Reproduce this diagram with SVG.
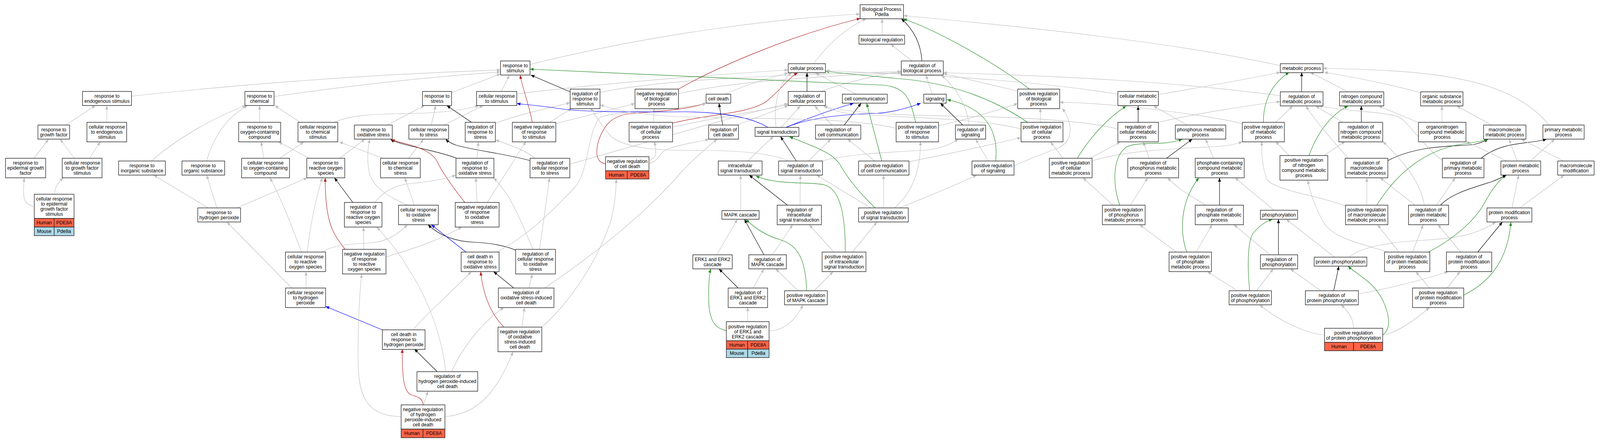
<svg xmlns="http://www.w3.org/2000/svg" width="4344" height="1131" viewBox="0 0 4344 1131">
<style>
text{font-family:"Liberation Sans",Arial,sans-serif;font-size:13px;fill:#000;text-anchor:middle}
.node rect{fill:#fff;stroke:#222;stroke-width:1.4}
.node rect.hu{fill:#ff6347}
.node rect.mo{fill:#add8e6}
.e{fill:none;stroke-width:1.2}
.g{stroke:#c0c0c0;marker-end:url(#ag)}
.k{stroke:#000;marker-end:url(#ak)}
.r{stroke:#b22222;marker-end:url(#ar)}
.b{stroke:#0000ff;marker-end:url(#ab)}
.v{stroke:#228b22;marker-end:url(#av)}
</style>
<defs>
<marker id="ag" markerUnits="userSpaceOnUse" markerWidth="11" markerHeight="8" refX="10" refY="4" orient="auto"><path d="M0,0 L10,4 L0,8 z" fill="#c0c0c0"/></marker>
<marker id="ak" markerUnits="userSpaceOnUse" markerWidth="11" markerHeight="8" refX="10" refY="4" orient="auto"><path d="M0,0 L10,4 L0,8 z" fill="#000"/></marker>
<marker id="ar" markerUnits="userSpaceOnUse" markerWidth="11" markerHeight="8" refX="10" refY="4" orient="auto"><path d="M0,0 L10,4 L0,8 z" fill="#b22222"/></marker>
<marker id="ab" markerUnits="userSpaceOnUse" markerWidth="11" markerHeight="8" refX="10" refY="4" orient="auto"><path d="M0,0 L10,4 L0,8 z" fill="#0000ff"/></marker>
<marker id="av" markerUnits="userSpaceOnUse" markerWidth="11" markerHeight="8" refX="10" refY="4" orient="auto"><path d="M0,0 L10,4 L0,8 z" fill="#228b22"/></marker>
</defs>
<rect x="0" y="0" width="4344" height="1131" fill="#fff"/>
<g id="diagram" transform="scale(0.94291,1)">
<g id="edges">
<path class="e g" d="M357,246 Q860,195 1359,179"/>
<path class="e g" d="M178,320 L259,270"/>
<path class="e g" d="M290,313 L290,270"/>
<path class="e g" d="M92,405 L132,356"/>
<path class="e g" d="M202,405 L163,356"/>
<path class="e g" d="M243,405 L272,363"/>
<path class="e g" d="M93,528 C68,525 64,510 64,490 C64,475 65,465 66,455"/>
<path class="e g" d="M148,497 C148,478 160,465 172,455"/>
<path class="e g" d="M411,412 C480,355 580,300 668,270"/>
<path class="e g" d="M561,412 C580,350 615,300 672,270"/>
<path class="e g" d="M565,532 L417,448"/>
<path class="e g" d="M589,532 L561,448"/>
<path class="e g" d="M643,532 L834,455"/>
<path class="e g" d="M744,247 Q1050,205 1359,184"/>
<path class="e g" d="M705,313 L705,270"/>
<path class="e g" d="M815,313 L746,270"/>
<path class="e g" d="M908,313 C960,290 1050,292 1130,290 C1200,288 1260,282 1300,270"/>
<path class="e g" d="M716,405 L709,363"/>
<path class="e g" d="M760,405 L825,363"/>
<path class="e g" d="M840,405 L756,363"/>
<path class="e g" d="M922,405 L991,356"/>
<path class="e g" d="M1040,405 L921,363"/>
<path class="e g" d="M1110,405 L1150,356"/>
<path class="e g" d="M1051,320 L1153,270"/>
<path class="e g" d="M1171,320 L1183,270"/>
<path class="e g" d="M1205,320 L1312,270"/>
<path class="e k" d="M1280,313 L1213,270"/>
<path class="e g" d="M1345,316 C1400,295 1480,278 1548,263"/>
<path class="e g" d="M1226,237 L1359,189"/>
<path class="e g" d="M1361,234 L1383,192"/>
<path class="e g" d="M1403,240 C1650,212 1950,190 2140,179"/>
<path class="e g" d="M1439,165 C1800,80 2150,45 2335,36"/>
<path class="e k" d="M1548,235 L1441,192"/>
<path class="e g" d="M1629,237 C1800,200 2200,190 2447,183"/>
<path class="e r" d="M1445,313 C1440,280 1420,230 1412,192"/>
<path class="e g" d="M1492,313 L1553,277"/>
<path class="e g" d="M1509,316 L1724,265"/>
<path class="e g" d="M1452,405 C1430,385 1380,370 1345,358"/>
<path class="e k" d="M1439,411 C1380,395 1290,385 1240,372 C1225,367 1216,362 1210,356"/>
<path class="e g" d="M1547,420 C1700,380 1980,300 2140,265"/>
<path class="e r" d="M1842,228 C1950,170 2150,90 2336,47"/>
<path class="e g" d="M1842,240 C2000,205 2300,192 2447,186"/>
<path class="e g" d="M1773,313 L1777,277"/>
<path class="e r" d="M1826,315 C1920,292 2030,292 2080,260 C2120,230 2140,200 2166,186"/>
<path class="e g" d="M1826,325 C1950,300 2050,285 2140,268"/>
<path class="e k" d="M1962,320 L1952,264"/>
<path class="e g" d="M2000,320 L2140,270"/>
<path class="e g" d="M1970,241 C2030,215 2090,198 2140,187"/>
<path class="e r" d="M1644,419 C1615,415 1618,385 1625,360 C1640,320 1660,300 1700,292 C1780,285 1860,282 1917,264"/>
<path class="e g" d="M1762,418 C1790,412 1790,390 1810,382 C1850,368 1890,365 1925,356"/>
<path class="e g" d="M1762,410 C1785,405 1782,390 1777,362"/>
<path class="e k" d="M1240,405 C1200,390 1140,380 1100,370 C1080,365 1068,361 1060,356"/>
<path class="e g" d="M1295,405 L1299,363"/>
<path class="e r" d="M1262,518 C1230,480 1200,440 1185,410 C1160,375 1100,370 1062,357"/>
<path class="e g" d="M1295,518 L1292,455"/>
<path class="e g" d="M1323,518 L1428,362"/>
<path class="e k" d="M958,518 L908,455"/>
<path class="e g" d="M1018,518 C1040,490 1070,475 1110,470 C1170,465 1210,458 1238,448"/>
<path class="e g" d="M1106,525 C1060,505 1020,485 1005,450 C995,420 998,380 1004,356"/>
<path class="e g" d="M1125,525 L1099,455"/>
<path class="e r" d="M937,638 C905,600 898,580 893,560 C885,530 883,490 883,455"/>
<path class="e g" d="M988,638 L987,581"/>
<path class="e g" d="M1048,658 C1100,640 1160,630 1254,581"/>
<path class="e g" d="M834,645 C840,600 850,530 875,455"/>
<path class="e g" d="M819,645 C800,600 770,520 733,455"/>
<path class="e g" d="M875,645 C900,630 930,625 1000,622 C1050,620 1080,600 1106,575"/>
<path class="e g" d="M831,737 L831,695"/>
<path class="e g" d="M792,737 L616,568"/>
<path class="e b" d="M1038,844 L884,784"/>
<path class="e g" d="M1122,844 C1150,810 1200,770 1280,695"/>
<path class="e k" d="M1187,951 L1125,893"/>
<path class="e g" d="M1226,951 C1250,900 1300,830 1368,787"/>
<path class="e g" d="M1210,951 C1200,860 1160,760 1110,690 C1080,640 1050,610 1023,581"/>
<path class="e r" d="M1149,1036 C1148,1020 1135,1015 1115,1010 C1095,1000 1092,960 1092,893"/>
<path class="e g" d="M1150,1036 L1162,1001"/>
<path class="e g" d="M1089,1066 C1000,1065 972,1020 972,920 C972,830 975,760 982,701"/>
<path class="e g" d="M1208,1066 C1300,1060 1350,1000 1393,900"/>
<path class="e k" d="M1395,737 L1340,695"/>
<path class="e g" d="M1436,737 L1445,701"/>
<path class="e g" d="M1479,737 C1600,660 1750,550 1850,440 C1900,390 1930,370 1947,356"/>
<path class="e r" d="M1368,837 C1335,805 1312,760 1305,695"/>
<path class="e g" d="M1417,837 L1424,787"/>
<path class="e g" d="M1471,837 C1530,790 1620,680 1660,560 C1670,520 1673,490 1673,458"/>
<path class="e g" d="M1465,638 L1492,455"/>
<path class="e g" d="M1447,638 C1420,580 1390,500 1340,455"/>
<path class="e k" d="M1400,640 C1370,628 1330,622 1290,620 C1230,618 1190,600 1162,575"/>
<path class="e b" d="M1265,645 L1171,575"/>
<path class="e g" d="M1349,645 C1420,610 1480,560 1560,480 C1600,440 1595,330 1630,300 C1680,282 1850,282 1917,264"/>
<path class="e g" d="M2209,163 C2250,110 2300,70 2352,48"/>
<path class="e g" d="M2395,90 L2395,48"/>
<path class="e k" d="M2503,156 C2500,110 2480,75 2447,48"/>
<path class="e g" d="M2476,156 L2418,113"/>
<path class="e v" d="M2795,228 C2700,160 2550,80 2452,48"/>
<path class="e g" d="M2763,233 L2561,188"/>
<path class="e g" d="M3476,168 C3200,110 2800,70 2453,40"/>
<path class="e k" d="M2191,234 L2191,186"/>
<path class="e g" d="M2228,234 C2300,210 2380,192 2447,183"/>
<path class="e g" d="M2325,241 L2214,187"/>
<path class="e g" d="M2531,241 L2514,192"/>
<path class="e k" d="M2292,320 L2338,264"/>
<path class="e g" d="M2258,320 L2212,271"/>
<path class="e b" d="M2134,326 C2200,300 2260,280 2318,264"/>
<path class="e b" d="M2134,326 C2200,300 2300,292 2380,290 C2420,288 2460,278 2500,264"/>
<path class="e b" d="M2085,326 C2040,300 1960,287 1860,286 C1700,287 1560,287 1500,275 C1460,270 1430,268 1403,265"/>
<path class="e g" d="M2121,326 L2173,271"/>
<path class="e g" d="M2107,326 C2100,280 2110,210 2150,186"/>
<path class="e k" d="M2162,412 L2119,349"/>
<path class="e g" d="M2030,412 L2100,349"/>
<path class="e g" d="M2195,412 L2256,356"/>
<path class="e g" d="M2230,412 C2300,395 2400,390 2500,385 C2550,383 2580,370 2602,356"/>
<path class="e g" d="M2141,412 C2100,392 2000,385 1900,385 C1780,385 1700,380 1660,350 C1640,330 1620,300 1603,277"/>
<path class="e v" d="M2394,412 L2353,264"/>
<path class="e g" d="M2375,412 L2301,356"/>
<path class="e g" d="M2468,414 C2550,398 2650,380 2772,352"/>
<path class="e g" d="M2433,328 C2300,300 2100,305 1900,300 C1750,297 1680,285 1629,268"/>
<path class="e v" d="M2486,313 C2470,250 2460,225 2400,218 C2100,205 1800,190 1439,177"/>
<path class="e g" d="M2548,322 C2650,300 2720,278 2763,265"/>
<path class="e g" d="M2429,532 C2480,490 2500,430 2499,362"/>
<path class="e g" d="M2399,532 L2399,448"/>
<path class="e g" d="M2364,532 L2217,448"/>
<path class="e v" d="M2376,532 C2330,490 2300,455 2280,420 C2260,395 2240,385 2143,350"/>
<path class="e g" d="M2442,532 C2500,510 2580,480 2652,448"/>
<path class="e k" d="M2138,525 L2034,448"/>
<path class="e g" d="M2172,525 L2173,448"/>
<path class="e v" d="M2295,645 C2295,560 2285,485 2238,473 C2200,464 2110,475 2052,450"/>
<path class="e g" d="M2264,645 L2197,575"/>
<path class="e g" d="M2314,645 L2381,568"/>
<path class="e g" d="M2011,539 L2011,448"/>
<path class="e k" d="M2074,652 L2021,561"/>
<path class="e g" d="M2097,652 L2152,575"/>
<path class="e v" d="M2190,744 C2188,680 2175,630 2120,614 C2080,603 2050,585 2025,561"/>
<path class="e g" d="M2167,744 L2106,688"/>
<path class="e g" d="M2210,744 L2262,695"/>
<path class="e g" d="M1946,652 L2002,561"/>
<path class="e k" d="M2004,737 L1952,688"/>
<path class="e g" d="M2045,737 L2074,688"/>
<path class="e v" d="M1972,846 C1940,840 1924,820 1924,760 C1924,720 1926,700 1930,688"/>
<path class="e g" d="M2030,823 L2030,786"/>
<path class="e g" d="M2088,847 C2130,845 2160,820 2180,780"/>
<path class="e g" d="M2826,313 L2824,277"/>
<path class="e v" d="M2790,313 C2700,255 2600,220 2480,205 C2380,195 2300,190 2241,182"/>
<path class="e g" d="M2772,330 C2650,300 2400,300 2300,290 C2270,285 2250,278 2236,271"/>
<path class="e g" d="M3035,330 C2950,310 2800,300 2600,297 C2400,295 2280,285 2236,271"/>
<path class="e v" d="M2703,412 C2712,340 2680,275 2571,255"/>
<path class="e g" d="M2683,412 L2649,356"/>
<path class="e g" d="M2753,424 C2800,405 2840,390 2870,380 C2920,360 2910,310 2884,277"/>
<path class="e k" d="M2614,320 L2553,264"/>
<path class="e g" d="M2631,320 C2625,270 2600,230 2556,192"/>
<path class="e v" d="M2925,405 C2960,350 3010,300 3058,271"/>
<path class="e g" d="M2960,405 L3042,363"/>
<path class="e g" d="M2886,405 L2852,363"/>
<path class="e g" d="M2965,412 C3050,385 3200,380 3300,375 C3340,373 3360,368 3373,362"/>
<path class="e g" d="M3035,241 C2800,205 2500,190 2241,181"/>
<path class="e g" d="M3145,242 C3280,220 3400,200 3476,185"/>
<path class="e k" d="M3090,313 L3090,271"/>
<path class="e g" d="M3145,313 C3250,290 3400,268 3476,260"/>
<path class="e g" d="M3223,320 L3132,271"/>
<path class="e k" d="M3167,405 L3237,356"/>
<path class="e g" d="M3120,405 L3104,363"/>
<path class="e v" d="M3040,525 C3020,470 3020,400 3060,375 C3100,360 3160,375 3210,356"/>
<path class="e g" d="M3069,525 L3116,455"/>
<path class="e g" d="M3022,525 L2940,455"/>
<path class="e k" d="M3534,235 L3534,185"/>
<path class="e g" d="M3476,245 C3200,210 2900,195 2561,186"/>
<path class="e v" d="M3430,313 C3430,250 3460,210 3500,185"/>
<path class="e g" d="M3463,313 L3510,271"/>
<path class="e g" d="M3373,316 C3250,290 3000,262 2877,262"/>
<path class="e g" d="M3660,235 L3557,185"/>
<path class="e g" d="M3857,237 C3750,210 3660,195 3595,185"/>
<path class="e g" d="M4206,320 C4100,200 3900,180 3592,175"/>
<path class="e k" d="M3696,313 L3696,271"/>
<path class="e g" d="M3645,313 L3572,271"/>
<path class="e g" d="M3849,313 L3743,271"/>
<path class="e g" d="M3915,313 L3915,271"/>
<path class="e g" d="M4050,320 L3955,271"/>
<path class="e v" d="M3554,398 C3580,330 3620,290 3660,271"/>
<path class="e g" d="M3594,398 L3652,362"/>
<path class="e g" d="M3500,398 L3463,362"/>
<path class="e g" d="M3660,405 C3620,360 3570,310 3546,271"/>
<path class="e k" d="M3768,411 C3850,370 3950,375 4000,370 C4020,366 4030,362 4040,356"/>
<path class="e k" d="M4021,405 C4080,360 4150,370 4199,356"/>
<path class="e g" d="M3916,410 C3870,380 3830,320 3800,300 C3760,285 3650,285 3580,271"/>
<path class="e g" d="M4119,412 L4097,356"/>
<path class="e g" d="M4091,412 L3980,362"/>
<path class="e g" d="M4155,412 L4221,356"/>
<path class="e g" d="M4245,412 L4130,356"/>
<path class="e g" d="M3295,405 L3273,356"/>
<path class="e k" d="M3311,525 L3311,455"/>
<path class="e g" d="M3273,525 C3240,505 3200,485 3170,455"/>
<path class="e g" d="M3459,538 L3353,455"/>
<path class="e v" d="M3222,645 C3205,600 3200,520 3255,455"/>
<path class="e g" d="M3247,645 L3291,575"/>
<path class="e g" d="M3194,645 L3094,575"/>
<path class="e k" d="M3471,652 L3471,561"/>
<path class="e g" d="M3448,652 L3350,575"/>
<path class="e v" d="M3393,744 C3388,700 3385,630 3400,600 C3420,575 3440,565 3455,561"/>
<path class="e g" d="M3411,744 L3457,688"/>
<path class="e g" d="M3360,744 L3278,695"/>
<path class="e g" d="M3623,658 L3492,561"/>
<path class="e g" d="M3663,658 C3690,635 3760,620 3860,615 C3960,610 4010,600 4061,568"/>
<path class="e k" d="M3621,744 L3635,681"/>
<path class="e g" d="M3586,744 L3503,688"/>
<path class="e g" d="M3688,752 C3760,740 3850,720 3932,695"/>
<path class="e v" d="M3754,857 C3780,840 3770,800 3755,770 C3730,720 3680,700 3660,681"/>
<path class="e g" d="M3675,840 C3675,820 3665,800 3641,780"/>
<path class="e g" d="M3596,857 C3550,855 3470,820 3420,780"/>
<path class="e g" d="M3754,857 C3790,853 3840,820 3881,787"/>
<path class="e g" d="M3929,737 L3964,695"/>
<path class="e g" d="M3881,737 L3844,695"/>
<path class="e v" d="M3974,755 C4050,720 4095,660 4102,568"/>
<path class="e k" d="M4012,645 L4079,568"/>
<path class="e g" d="M3966,645 L3904,575"/>
<path class="e v" d="M3878,645 C3960,605 4010,555 4030,520 C4050,485 4070,460 4090,448"/>
<path class="e g" d="M3835,645 L3864,575"/>
<path class="e g" d="M3798,645 L3740,575"/>
<path class="e g" d="M3769,645 C3700,625 3620,610 3594,570 C3570,530 3560,500 3550,461"/>
<path class="e k" d="M3911,525 C3940,495 4000,480 4050,465 C4070,458 4080,452 4090,448"/>
<path class="e g" d="M3842,525 L3747,455"/>
<path class="e g" d="M3900,525 L3951,455"/>
<path class="e g" d="M3867,525 C3860,480 3830,430 3754,362"/>
<path class="e v" d="M3738,525 C3800,430 3880,385 3960,370 C4000,365 4030,360 4040,356"/>
<path class="e g" d="M3711,525 L3711,455"/>
<path class="e g" d="M3653,527 C3580,500 3470,490 3440,460 C3425,420 3425,390 3426,362"/>
<path class="e g" d="M4126,532 L4247,448"/>
<path class="e g" d="M4105,532 L4123,448"/>
</g>
<g id="nodes">
<g id="n_bp" class="node"><rect x="2335" y="12" width="118" height="36"/><text x="2394" y="28">Biological Process</text><text x="2394" y="41">Pde8a</text></g>
<g id="n_bioreg" class="node"><rect x="2332" y="90" width="124" height="23"/><text x="2394" y="106">biological regulation</text></g>
<g id="n_cellproc" class="node"><rect x="2140" y="163" width="101" height="23"/><text x="2190.5" y="179">cellular process</text></g>
<g id="n_regbio" class="node"><rect x="2447" y="156" width="114" height="36"/><text x="2504" y="172">regulation of</text><text x="2504" y="185">biological process</text></g>
<g id="n_respstim" class="node"><rect x="1359" y="156" width="80" height="36"/><text x="1399" y="172">response to</text><text x="1399" y="185">stimulus</text></g>
<g id="n_metab" class="node"><rect x="3476" y="163" width="116" height="23"/><text x="3534" y="179">metabolic process</text></g>
<g id="n_regresstim" class="node"><rect x="1548" y="228" width="81" height="50"/><text x="1588.5" y="244.5">regulation of</text><text x="1588.5" y="257.5">response to</text><text x="1588.5" y="270.5">stimulus</text></g>
<g id="n_negregbio" class="node"><rect x="1724" y="228" width="118" height="50"/><text x="1783" y="244.5">negative regulation</text><text x="1783" y="257.5">of biological</text><text x="1783" y="270.5">process</text></g>
<g id="n_celldeath" class="node"><rect x="1917" y="241" width="67" height="23"/><text x="1950.5" y="257">cell death</text></g>
<g id="n_regcellproc" class="node"><rect x="2140" y="234" width="101" height="36"/><text x="2190.5" y="250">regulation of</text><text x="2190.5" y="263">cellular process</text></g>
<g id="n_cellcomm" class="node"><rect x="2287" y="241" width="122" height="23"/><text x="2348" y="257">cell communication</text></g>
<g id="n_signaling" class="node"><rect x="2508" y="241" width="61" height="23"/><text x="2538.5" y="257">signaling</text></g>
<g id="n_posregbio" class="node"><rect x="2763" y="228" width="114" height="50"/><text x="2820" y="244.5">positive regulation</text><text x="2820" y="257.5">of biological</text><text x="2820" y="270.5">process</text></g>
<g id="n_cellmetab" class="node"><rect x="3035" y="234" width="110" height="36"/><text x="3090" y="250">cellular metabolic</text><text x="3090" y="263">process</text></g>
<g id="n_regmetab" class="node"><rect x="3476" y="235" width="116" height="36"/><text x="3534" y="251">regulation of</text><text x="3534" y="264">metabolic process</text></g>
<g id="n_nitro" class="node"><rect x="3637" y="235" width="120" height="36"/><text x="3697" y="251">nitrogen compound</text><text x="3697" y="264">metabolic process</text></g>
<g id="n_orgsub" class="node"><rect x="3857" y="235" width="115" height="36"/><text x="3914.5" y="251">organic substance</text><text x="3914.5" y="264">metabolic process</text></g>
<g id="n_respendo" class="node"><rect x="224" y="234" width="133" height="36"/><text x="290.5" y="250">response to</text><text x="290.5" y="263">endogenous stimulus</text></g>
<g id="n_respchem" class="node"><rect x="665" y="234" width="79" height="36"/><text x="704.5" y="250">response to</text><text x="704.5" y="263">chemical</text></g>
<g id="n_respstress" class="node"><rect x="1147" y="234" width="79" height="36"/><text x="1186.5" y="250">response to</text><text x="1186.5" y="263">stress</text></g>
<g id="n_cellrespstim" class="node"><rect x="1294" y="234" width="109" height="36"/><text x="1348.5" y="250">cellular response</text><text x="1348.5" y="263">to stimulus</text></g>
<g id="n_respgf" class="node"><rect x="103" y="320" width="86" height="36"/><text x="146" y="336">response to</text><text x="146" y="349">growth factor</text></g>
<g id="n_cellrespendo" class="node"><rect x="236" y="313" width="108" height="50"/><text x="290" y="329.5">cellular response</text><text x="290" y="342.5">to endogenous</text><text x="290" y="355.5">stimulus</text></g>
<g id="n_respoxy" class="node"><rect x="648" y="313" width="114" height="50"/><text x="705" y="329.5">response to</text><text x="705" y="342.5">oxygen-containing</text><text x="705" y="355.5">compound</text></g>
<g id="n_cellrespchem" class="node"><rect x="809" y="313" width="108" height="50"/><text x="863" y="329.5">cellular response</text><text x="863" y="342.5">to chemical</text><text x="863" y="355.5">stimulus</text></g>
<g id="n_respox" class="node"><rect x="962" y="320" width="103" height="36"/><text x="1013.5" y="336">response to</text><text x="1013.5" y="349">oxidative stress</text></g>
<g id="n_cellrespstress" class="node"><rect x="1110" y="320" width="108" height="36"/><text x="1164" y="336">cellular response</text><text x="1164" y="349">to stress</text></g>
<g id="n_regrespstress" class="node"><rect x="1263" y="313" width="82" height="50"/><text x="1304" y="329.5">regulation of</text><text x="1304" y="342.5">response to</text><text x="1304" y="355.5">stress</text></g>
<g id="n_negregrespstim" class="node"><rect x="1391" y="313" width="118" height="50"/><text x="1450" y="329.5">negative regulation</text><text x="1450" y="342.5">of response</text><text x="1450" y="355.5">to stimulus</text></g>
<g id="n_negregcellproc" class="node"><rect x="1708" y="313" width="118" height="50"/><text x="1767" y="329.5">negative regulation</text><text x="1767" y="342.5">of cellular</text><text x="1767" y="355.5">process</text></g>
<g id="n_regcelldeath" class="node"><rect x="1924" y="320" width="81" height="36"/><text x="1964.5" y="336">regulation of</text><text x="1964.5" y="349">cell death</text></g>
<g id="n_sigtrans" class="node"><rect x="2050" y="326" width="119" height="23"/><text x="2109.5" y="342">signal transduction</text></g>
<g id="n_regcellcomm" class="node"><rect x="2214" y="320" width="123" height="36"/><text x="2275.5" y="336">regulation of</text><text x="2275.5" y="349">cell communication</text></g>
<g id="n_posregrespstim" class="node"><rect x="2433" y="313" width="115" height="50"/><text x="2490.5" y="329.5">positive regulation</text><text x="2490.5" y="342.5">of response</text><text x="2490.5" y="355.5">to stimulus</text></g>
<g id="n_regsignaling" class="node"><rect x="2594" y="320" width="82" height="36"/><text x="2635" y="336">regulation of</text><text x="2635" y="349">signaling</text></g>
<g id="n_posregcellproc" class="node"><rect x="2772" y="313" width="114" height="50"/><text x="2829" y="329.5">positive regulation</text><text x="2829" y="342.5">of cellular</text><text x="2829" y="355.5">process</text></g>
<g id="n_regcellmetab" class="node"><rect x="3035" y="313" width="110" height="50"/><text x="3090" y="329.5">regulation of</text><text x="3090" y="342.5">cellular metabolic</text><text x="3090" y="355.5">process</text></g>
<g id="n_phosphorus" class="node"><rect x="3191" y="320" width="137" height="36"/><text x="3259.5" y="336">phosphorus metabolic</text><text x="3259.5" y="349">process</text></g>
<g id="n_posregmetab" class="node"><rect x="3373" y="313" width="114" height="50"/><text x="3430" y="329.5">positive regulation</text><text x="3430" y="342.5">of metabolic</text><text x="3430" y="355.5">process</text></g>
<g id="n_regnitro" class="node"><rect x="3635" y="313" width="119" height="50"/><text x="3694.5" y="329.5">regulation of</text><text x="3694.5" y="342.5">nitrogen compound</text><text x="3694.5" y="355.5">metabolic process</text></g>
<g id="n_organonitro" class="node"><rect x="3851" y="313" width="129" height="50"/><text x="3915.5" y="329.5">organonitrogen</text><text x="3915.5" y="342.5">compound metabolic</text><text x="3915.5" y="355.5">process</text></g>
<g id="n_macromol" class="node"><rect x="4028" y="320" width="115" height="36"/><text x="4085.5" y="336">macromolecule</text><text x="4085.5" y="349">metabolic process</text></g>
<g id="n_primary" class="node"><rect x="4189" y="320" width="112" height="36"/><text x="4245" y="336">primary metabolic</text><text x="4245" y="349">process</text></g>
<g id="n_respegf" class="node"><rect x="15" y="405" width="109" height="50"/><text x="69.5" y="421.5">response to</text><text x="69.5" y="434.5">epidermal growth</text><text x="69.5" y="447.5">factor</text></g>
<g id="n_cellrespgf" class="node"><rect x="169" y="405" width="108" height="50"/><text x="223" y="421.5">cellular response</text><text x="223" y="434.5">to growth factor</text><text x="223" y="447.5">stimulus</text></g>
<g id="n_respinorg" class="node"><rect x="322" y="412" width="127" height="36"/><text x="385.5" y="428">response to</text><text x="385.5" y="441">inorganic substance</text></g>
<g id="n_resporg" class="node"><rect x="494" y="412" width="116" height="36"/><text x="552" y="428">response to</text><text x="552" y="441">organic substance</text></g>
<g id="n_cellrespoxy" class="node"><rect x="656" y="405" width="130" height="50"/><text x="721" y="421.5">cellular response</text><text x="721" y="434.5">to oxygen-containing</text><text x="721" y="447.5">compound</text></g>
<g id="n_respros" class="node"><rect x="833" y="405" width="103" height="50"/><text x="884.5" y="421.5">response to</text><text x="884.5" y="434.5">reactive oxygen</text><text x="884.5" y="447.5">species</text></g>
<g id="n_cellrespchemstress" class="node"><rect x="1033" y="405" width="108" height="50"/><text x="1087" y="421.5">cellular response</text><text x="1087" y="434.5">to chemical</text><text x="1087" y="447.5">stress</text></g>
<g id="n_regrespox" class="node"><rect x="1238" y="405" width="103" height="50"/><text x="1289.5" y="421.5">regulation of</text><text x="1289.5" y="434.5">response to</text><text x="1289.5" y="447.5">oxidative stress</text></g>
<g id="n_regcellrespstress" class="node"><rect x="1439" y="405" width="108" height="50"/><text x="1493" y="421.5">regulation of</text><text x="1493" y="434.5">cellular response</text><text x="1493" y="447.5">to stress</text></g>
<g id="n_negregcelldeath" class="node"><rect x="1644" y="401" width="118" height="36"/><text x="1703" y="417">negative regulation</text><text x="1703" y="430">of cell death</text><rect class="hu" x="1644" y="437" width="59" height="21"/><rect class="hu" x="1703" y="437" width="59" height="21"/><text x="1673.5" y="452">Human</text><text x="1732.5" y="452">PDE8A</text></g>
<g id="n_intrasig" class="node"><rect x="1950" y="412" width="119" height="36"/><text x="2009.5" y="428">intracellular</text><text x="2009.5" y="441">signal transduction</text></g>
<g id="n_regsigtrans" class="node"><rect x="2114" y="412" width="119" height="36"/><text x="2173.5" y="428">regulation of</text><text x="2173.5" y="441">signal transduction</text></g>
<g id="n_posregcellcomm" class="node"><rect x="2331" y="412" width="137" height="36"/><text x="2399.5" y="428">positive regulation</text><text x="2399.5" y="441">of cell communication</text></g>
<g id="n_posregsignaling" class="node"><rect x="2639" y="412" width="114" height="36"/><text x="2696" y="428">positive regulation</text><text x="2696" y="441">of signaling</text></g>
<g id="n_posregcellmetab" class="node"><rect x="2849" y="405" width="116" height="50"/><text x="2907" y="421.5">positive regulation</text><text x="2907" y="434.5">of cellular</text><text x="2907" y="447.5">metabolic process</text></g>
<g id="n_regphosphorus" class="node"><rect x="3062" y="405" width="138" height="50"/><text x="3131" y="421.5">regulation of</text><text x="3131" y="434.5">phosphorus metabolic</text><text x="3131" y="447.5">process</text></g>
<g id="n_phosphate" class="node"><rect x="3245" y="405" width="133" height="50"/><text x="3311.5" y="421.5">phosphate-containing</text><text x="3311.5" y="434.5">compound metabolic</text><text x="3311.5" y="447.5">process</text></g>
<g id="n_posregnitro" class="node"><rect x="3475" y="398" width="130" height="63"/><text x="3540" y="414.5">positive regulation</text><text x="3540" y="427.5">of nitrogen</text><text x="3540" y="440.5">compound metabolic</text><text x="3540" y="453.5">process</text></g>
<g id="n_regmacro" class="node"><rect x="3652" y="405" width="116" height="50"/><text x="3710" y="421.5">regulation of</text><text x="3710" y="434.5">macromolecule</text><text x="3710" y="447.5">metabolic process</text></g>
<g id="n_regprimary" class="node"><rect x="3916" y="405" width="113" height="50"/><text x="3972.5" y="421.5">regulation of</text><text x="3972.5" y="434.5">primary metabolic</text><text x="3972.5" y="447.5">process</text></g>
<g id="n_protmetab" class="node"><rect x="4075" y="412" width="108" height="36"/><text x="4129" y="428">protein metabolic</text><text x="4129" y="441">process</text></g>
<g id="n_macromod" class="node"><rect x="4229" y="412" width="99" height="36"/><text x="4278.5" y="428">macromolecule</text><text x="4278.5" y="441">modification</text></g>
<g id="n_cellrespegf" class="node"><rect x="93" y="497" width="108" height="62"/><text x="147" y="513">cellular response</text><text x="147" y="526">to epidermal</text><text x="147" y="539">growth factor</text><text x="147" y="552">stimulus</text><rect class="hu" x="93" y="559" width="54" height="22"/><rect class="hu" x="147" y="559" width="54" height="22"/><text x="120" y="574.5">Human</text><text x="174" y="574.5">PDE8A</text><rect class="mo" x="93" y="581" width="54" height="22"/><rect class="mo" x="147" y="581" width="54" height="22"/><text x="120" y="596.5">Mouse</text><text x="174" y="596.5">Pde8a</text></g>
<g id="n_resph2o2" class="node"><rect x="537" y="532" width="116" height="36"/><text x="595" y="548">response to</text><text x="595" y="561">hydrogen peroxide</text></g>
<g id="n_regrespros" class="node"><rect x="935" y="518" width="102" height="63"/><text x="986" y="534.5">regulation of</text><text x="986" y="547.5">response to</text><text x="986" y="560.5">reactive oxygen</text><text x="986" y="573.5">species</text></g>
<g id="n_cellrespox" class="node"><rect x="1082" y="525" width="108" height="50"/><text x="1136" y="541.5">cellular response</text><text x="1136" y="554.5">to oxidative</text><text x="1136" y="567.5">stress</text></g>
<g id="n_negregrespox" class="node"><rect x="1236" y="518" width="119" height="63"/><text x="1295.5" y="534.5">negative regulation</text><text x="1295.5" y="547.5">of response</text><text x="1295.5" y="560.5">to oxidative</text><text x="1295.5" y="573.5">stress</text></g>
<g id="n_mapk" class="node"><rect x="1960" y="539" width="101" height="22"/><text x="2010.5" y="554.5">MAPK cascade</text></g>
<g id="n_regintrasig" class="node"><rect x="2110" y="525" width="120" height="50"/><text x="2170" y="541.5">regulation of</text><text x="2170" y="554.5">intracellular</text><text x="2170" y="567.5">signal transduction</text></g>
<g id="n_posregsigtrans" class="node"><rect x="2331" y="532" width="135" height="36"/><text x="2398.5" y="548">positive regulation</text><text x="2398.5" y="561">of signal transduction</text></g>
<g id="n_posregphosphorus" class="node"><rect x="2993" y="525" width="116" height="50"/><text x="3051" y="541.5">positive regulation</text><text x="3051" y="554.5">of phosphorus</text><text x="3051" y="567.5">metabolic process</text></g>
<g id="n_regphosphate" class="node"><rect x="3245" y="525" width="131" height="50"/><text x="3310.5" y="541.5">regulation of</text><text x="3310.5" y="554.5">phosphate metabolic</text><text x="3310.5" y="567.5">process</text></g>
<g id="n_phosphorylation" class="node"><rect x="3422" y="538" width="101" height="23"/><text x="3472.5" y="554">phosphorylation</text></g>
<g id="n_posregmacro" class="node"><rect x="3653" y="525" width="115" height="50"/><text x="3710.5" y="541.5">positive regulation</text><text x="3710.5" y="554.5">of macromolecule</text><text x="3710.5" y="567.5">metabolic process</text></g>
<g id="n_regprotmetab" class="node"><rect x="3824" y="525" width="109" height="50"/><text x="3878.5" y="541.5">regulation of</text><text x="3878.5" y="554.5">protein metabolic</text><text x="3878.5" y="567.5">process</text></g>
<g id="n_protmod" class="node"><rect x="4037" y="532" width="122" height="36"/><text x="4098" y="548">protein modification</text><text x="4098" y="561">process</text></g>
<g id="n_cellrespros" class="node"><rect x="775" y="645" width="109" height="50"/><text x="829.5" y="661.5">cellular response</text><text x="829.5" y="674.5">to reactive</text><text x="829.5" y="687.5">oxygen species</text></g>
<g id="n_negregrespros" class="node"><rect x="930" y="638" width="118" height="63"/><text x="989" y="654.5">negative regulation</text><text x="989" y="667.5">of response</text><text x="989" y="680.5">to reactive</text><text x="989" y="693.5">oxygen species</text></g>
<g id="n_celldeathox" class="node"><rect x="1252" y="645" width="103" height="50"/><text x="1303.5" y="661.5">cell death in</text><text x="1303.5" y="674.5">response to</text><text x="1303.5" y="687.5">oxidative stress</text></g>
<g id="n_regcellrespox" class="node"><rect x="1400" y="638" width="108" height="63"/><text x="1454" y="654.5">regulation of</text><text x="1454" y="667.5">cellular response</text><text x="1454" y="680.5">to oxidative</text><text x="1454" y="693.5">stress</text></g>
<g id="n_erk" class="node"><rect x="1881" y="652" width="107" height="36"/><text x="1934.5" y="668">ERK1 and ERK2</text><text x="1934.5" y="681">cascade</text></g>
<g id="n_regmapk" class="node"><rect x="2033" y="652" width="102" height="36"/><text x="2084" y="668">regulation of</text><text x="2084" y="681">MAPK cascade</text></g>
<g id="n_posregintrasig" class="node"><rect x="2232" y="645" width="119" height="50"/><text x="2291.5" y="661.5">positive regulation</text><text x="2291.5" y="674.5">of intracellular</text><text x="2291.5" y="687.5">signal transduction</text></g>
<g id="n_posregphosphate" class="node"><rect x="3174" y="645" width="115" height="50"/><text x="3231.5" y="661.5">positive regulation</text><text x="3231.5" y="674.5">of phosphate</text><text x="3231.5" y="687.5">metabolic process</text></g>
<g id="n_regphosphorylation" class="node"><rect x="3422" y="652" width="101" height="36"/><text x="3472.5" y="668">regulation of</text><text x="3472.5" y="681">phosphorylation</text></g>
<g id="n_protphos" class="node"><rect x="3568" y="658" width="143" height="23"/><text x="3639.5" y="674">protein phosphorylation</text></g>
<g id="n_posregprotmetab" class="node"><rect x="3759" y="645" width="123" height="50"/><text x="3820.5" y="661.5">positive regulation</text><text x="3820.5" y="674.5">of protein metabolic</text><text x="3820.5" y="687.5">process</text></g>
<g id="n_regprotmod" class="node"><rect x="3927" y="645" width="123" height="50"/><text x="3988.5" y="661.5">regulation of</text><text x="3988.5" y="674.5">protein modification</text><text x="3988.5" y="687.5">process</text></g>
<g id="n_cellresph2o2" class="node"><rect x="775" y="737" width="109" height="50"/><text x="829.5" y="753.5">cellular response</text><text x="829.5" y="766.5">to hydrogen</text><text x="829.5" y="779.5">peroxide</text></g>
<g id="n_regoxcelldeath" class="node"><rect x="1353" y="737" width="151" height="50"/><text x="1428.5" y="753.5">regulation of</text><text x="1428.5" y="766.5">oxidative stress-induced</text><text x="1428.5" y="779.5">cell death</text></g>
<g id="n_regerk" class="node"><rect x="1977" y="737" width="107" height="50"/><text x="2030.5" y="753.5">regulation of</text><text x="2030.5" y="766.5">ERK1 and ERK2</text><text x="2030.5" y="779.5">cascade</text></g>
<g id="n_posregmapk" class="node"><rect x="2130" y="744" width="116" height="36"/><text x="2188" y="760">positive regulation</text><text x="2188" y="773">of MAPK cascade</text></g>
<g id="n_posregphosphorylation" class="node"><rect x="3337" y="744" width="115" height="36"/><text x="3394.5" y="760">positive regulation</text><text x="3394.5" y="773">of phosphorylation</text></g>
<g id="n_regprotphos" class="node"><rect x="3544" y="744" width="144" height="36"/><text x="3616" y="760">regulation of</text><text x="3616" y="773">protein phosphorylation</text></g>
<g id="n_posregprotmod" class="node"><rect x="3835" y="737" width="139" height="50"/><text x="3904.5" y="753.5">positive regulation</text><text x="3904.5" y="766.5">of protein modification</text><text x="3904.5" y="779.5">process</text></g>
<g id="n_celldeathh2o2" class="node"><rect x="1038" y="844" width="116" height="50"/><text x="1096" y="860.5">cell death in</text><text x="1096" y="873.5">response to</text><text x="1096" y="886.5">hydrogen peroxide</text></g>
<g id="n_negregoxcelldeath" class="node"><rect x="1352" y="837" width="119" height="63"/><text x="1411.5" y="853.5">negative regulation</text><text x="1411.5" y="866.5">of oxidative</text><text x="1411.5" y="879.5">stress-induced</text><text x="1411.5" y="892.5">cell death</text></g>
<g id="n_posregerk" class="node"><rect x="1972" y="823" width="116" height="49"/><text x="2030" y="840">positive regulation</text><text x="2030" y="853">of ERK1 and</text><text x="2030" y="866">ERK2 cascade</text><rect class="hu" x="1972" y="872" width="58" height="21.5"/><rect class="hu" x="2030" y="872" width="58" height="21.5"/><text x="2001" y="887">Human</text><text x="2059" y="887">PDE8A</text><rect class="mo" x="1972" y="893.5" width="58" height="21.5"/><rect class="mo" x="2030" y="893.5" width="58" height="21.5"/><text x="2001" y="908.5">Mouse</text><text x="2059" y="908.5">Pde8a</text></g>
<g id="n_posregprotphos" class="node"><rect x="3596" y="840" width="158" height="36"/><text x="3675" y="856">positive regulation</text><text x="3675" y="869">of protein phosphorylation</text><rect class="hu" x="3596" y="876" width="79" height="21.5"/><rect class="hu" x="3675" y="876" width="79" height="21.5"/><text x="3635.5" y="891">Human</text><text x="3714.5" y="891">PDE8A</text></g>
<g id="n_regh2o2celldeath" class="node"><rect x="1132" y="951" width="165" height="50"/><text x="1214.5" y="967.5">regulation of</text><text x="1214.5" y="980.5">hydrogen peroxide-induced</text><text x="1214.5" y="993.5">cell death</text></g>
<g id="n_negregh2o2" class="node"><rect x="1089" y="1036" width="119" height="62"/><text x="1148.5" y="1052">negative regulation</text><text x="1148.5" y="1065">of hydrogen</text><text x="1148.5" y="1078">peroxide-induced</text><text x="1148.5" y="1091">cell death</text><rect class="hu" x="1089" y="1098" width="59.5" height="22"/><rect class="hu" x="1148.5" y="1098" width="59.5" height="22"/><text x="1118.75" y="1113.5">Human</text><text x="1178.25" y="1113.5">PDE8A</text></g>
</g>
</g>
</svg>
